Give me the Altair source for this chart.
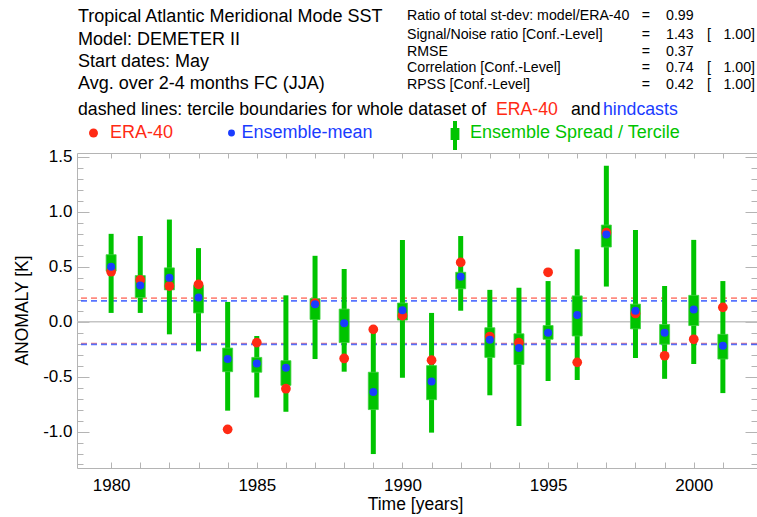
import altair as alt
import pandas as pd

# ---- data: Tropical Atlantic Meridional Mode SST anomalies (K), JJA ----
years = list(range(1980, 2002))
era40 = [0.455, 0.38, 0.325, 0.34, -0.98, -0.19, -0.61, 0.17, -0.335, -0.07, 0.055,
         -0.35, 0.54, -0.135, -0.19, 0.45, -0.37, 0.81, 0.075, -0.31, -0.16, 0.13]
ens_mean = [0.50, 0.33, 0.40, 0.22, -0.34, -0.38, -0.42, 0.16, -0.015, -0.64, 0.105,
            -0.545, 0.41, -0.165, -0.24, -0.10, 0.06, 0.795, 0.10, -0.10, 0.11, -0.22]
spread_lo = [0.08, 0.08, -0.115, -0.27, -0.81, -0.69, -0.82, -0.34, -0.455, -1.205, -0.51,
             -1.01, 0.10, -0.67, -0.95, -0.54, -0.53, 0.32, -0.33, -0.52, -0.385, -0.65]
spread_hi = [0.80, 0.78, 0.93, 0.67, 0.18, -0.13, 0.24, 0.60, 0.48, -0.08, 0.745,
             0.08, 0.78, 0.29, 0.31, 0.37, 0.66, 1.42, 0.835, 0.325, 0.745, 0.37]
tercile_lo = [0.46, 0.22, 0.29, 0.08, -0.455, -0.46, -0.58, 0.02, -0.19, -0.80, 0.015,
              -0.71, 0.30, -0.325, -0.39, -0.16, -0.13, 0.68, -0.065, -0.205, -0.035, -0.34]
tercile_hi = [0.61, 0.42, 0.49, 0.33, -0.24, -0.325, -0.355, 0.21, 0.115, -0.46, 0.17,
              -0.40, 0.45, -0.055, -0.11, -0.035, 0.235, 0.88, 0.16, -0.025, 0.24, -0.115]

# tercile boundaries of the whole dataset
era_bounds = [0.215, -0.198]
hind_bounds = [0.19, -0.206]

# axis ticks
x_ticks = years
y_major = [-1.0, -0.5, 0.0, 0.5, 1.0, 1.5]
y_minor = [-1.3, -1.2, -1.1, -1.0, -0.9, -0.8, -0.7, -0.6, -0.5, -0.4, -0.3, -0.2, -0.1, 0.0,
           0.1, 0.2, 0.3, 0.4, 0.5, 0.6, 0.7, 0.8, 0.9, 1.0, 1.1, 1.2, 1.3, 1.4, 1.5]

# header texts
header_lines = ["Tropical Atlantic Meridional Mode SST", "Model: DEMETER II",
                "Start dates: May", "Avg. over 2-4 months FC (JJA)"]
stat_names = ["Ratio of total st-dev: model/ERA-40", "Signal/Noise ratio [Conf.-Level]",
              "RMSE", "Correlation [Conf.-Level]", "RPSS [Conf.-Level]"]
stat_values = ["0.99", "1.43", "0.37", "0.74", "0.42"]
stat_conf = ["", "1.00]", "", "1.00]", "1.00]"]
dashed_note = ["dashed lines: tercile boundaries for whole dataset of", "ERA-40", "and", "hindcasts"]
legend_labels = ["ERA-40", "Ensemble-mean", "Ensemble Spread / Tercile"]

# ---- styling ----
RED = "#ff2a14"
BLUE = "#1a3cff"
GREEN = "#00c400"
GRAY = "#b4b4b4"
FONT = "Liberation Sans"
W, H = 680, 315

xs = alt.Scale(domain=[1979, 2002], nice=False, zero=False)
ys = alt.Scale(domain=[-1.332, 1.536], nice=False, zero=False)

df = pd.DataFrame({"year": years, "era": era40, "mean": ens_mean,
                   "lo": spread_lo, "hi": spread_hi, "tlo": tercile_lo, "thi": tercile_hi})

common_axis = dict(domain=False, grid=False, tickColor=GRAY, tickWidth=1)

x_bottom = alt.Axis(orient="bottom", values=x_ticks, tickSize=6, offset=-6,
                    labelExpr="datum.value % 5 == 0 ? format(datum.value, 'd') : ''",
                    labelFont=FONT, labelFontSize=17, labelColor="black", labelPadding=9,
                    labelOverlap=False, labelFlush=False,
                    title="Time [years]", titleFont=FONT, titleFontSize=17.5,
                    titleFontWeight="normal", titleColor="black",
                    titleX=338, titleY=42, titleAlign="center", titleBaseline="middle",
                    **common_axis)
x_top = alt.Axis(orient="top", values=x_ticks, tickSize=5, offset=-5, labels=False,
                 title=None, **common_axis)
y_left = alt.Axis(orient="left", values=y_major, tickSize=12, offset=-12,
                  labelExpr="(datum.value < 0 ? '-' : '') + format(abs(datum.value), '.1f')",
                  labelFont=FONT, labelFontSize=17, labelColor="black", labelPadding=5,
                  labelOverlap=False, labelFlush=False,
                  title="ANOMALY [K]", titleFont=FONT, titleFontSize=17.5,
                  titleFontWeight="normal", titleColor="black",
                  titleX=-67, titleY=157, titleAlign="center", titleBaseline="middle",
                  **common_axis)
y_left_minor = alt.Axis(orient="left", values=y_minor, tickSize=6, offset=-6,
                        labels=False, title=None, **common_axis)
y_right = alt.Axis(orient="right", values=y_major, tickSize=12, offset=-12,
                   labels=False, title=None, **common_axis)
y_right_minor = alt.Axis(orient="right", values=y_minor, tickSize=6, offset=-6,
                         labels=False, title=None, **common_axis)

base = alt.Chart(df)

zero_line = alt.Chart(pd.DataFrame({"v": [0.0]})).mark_rule(
    color="#c4c4c4", strokeWidth=1.5
).encode(y=alt.Y("v:Q", scale=ys, axis=None))

era_lines = alt.Chart(pd.DataFrame({"v": era_bounds})).mark_rule(
    color="#ff5a48", strokeWidth=1.6, strokeDash=[6, 4], opacity=0.7
).encode(y=alt.Y("v:Q", scale=ys, axis=None))

hind_lines = alt.Chart(pd.DataFrame({"v": hind_bounds})).mark_rule(
    color="#3a5cff", strokeWidth=1.6, strokeDash=[6, 4], opacity=0.85
).encode(y=alt.Y("v:Q", scale=ys, axis=None))

whiskers = base.mark_rule(color=GREEN, strokeWidth=5).encode(
    x=alt.X("year:Q", scale=xs, axis=x_bottom),
    y=alt.Y("lo:Q", scale=ys, axis=y_left),
    y2="hi:Q",
)

boxes = base.mark_bar(color=GREEN, size=10, stroke="#3fd23f", strokeWidth=0.8).encode(
    x=alt.X("year:Q", scale=xs, axis=x_top),
    y=alt.Y("tlo:Q", scale=ys, axis=y_left_minor),
    y2="thi:Q",
)

era_dots = base.mark_circle(color=RED, size=95, opacity=1).encode(
    x=alt.X("year:Q", scale=xs, axis=None),
    y=alt.Y("era:Q", scale=ys, axis=y_right),
)

mean_dots = base.mark_circle(color=BLUE, size=64, opacity=1).encode(
    x=alt.X("year:Q", scale=xs, axis=None),
    y=alt.Y("mean:Q", scale=ys, axis=y_right_minor),
)


def label(text, x, y, size, color="black", align="left"):
    return alt.Chart(pd.DataFrame({"t": [text]})).mark_text(
        align=align, baseline="middle", font=FONT, fontSize=size, color=color
    ).encode(text="t:N", x=alt.value(x), y=alt.value(y))


texts = []
for line, yy in zip(header_lines, [-136, -113, -91, -69]):
    texts.append(label(line, 1, yy, 18))

stat_rows = [-137.3, -118, -101.3, -84.7, -68]
for name, val, conf, yy in zip(stat_names, stat_values, stat_conf, stat_rows):
    texts.append(label(name, 330, yy, 14.2))
    texts.append(label("=", 569, yy, 14.2, align="center"))
    texts.append(label(val, 589, yy, 14.2))
    if conf:
        texts.append(label("[", 630, yy, 14.2))
        texts.append(label(conf, 678, yy, 14.2, align="right"))

texts.append(label(dashed_note[0], 1, -43, 17.7))
texts.append(label(dashed_note[1], 419, -43, 17.7, color=RED))
texts.append(label(dashed_note[2], 494, -43, 17.7))
texts.append(label(dashed_note[3], 526, -43, 17.7, color=BLUE))

texts.append(label(legend_labels[0], 33, -20, 18, color=RED))
texts.append(label(legend_labels[1], 164.5, -20, 18, color=BLUE))
texts.append(label(legend_labels[2], 393, -20, 18, color=GREEN))

one = pd.DataFrame({"k": [0]})
legend_marks = [
    alt.Chart(one).mark_circle(color=RED, size=80, opacity=1).encode(
        x=alt.value(16.5), y=alt.value(-20)),
    alt.Chart(one).mark_circle(color=BLUE, size=48, opacity=1).encode(
        x=alt.value(154.5), y=alt.value(-20)),
    alt.Chart(one).mark_rect(color=GREEN).encode(
        x=alt.value(376), x2=alt.value(380), y=alt.value(-32), y2=alt.value(-3)),
    alt.Chart(one).mark_rect(color=GREEN).encode(
        x=alt.value(373.6), x2=alt.value(382.4), y=alt.value(-25), y2=alt.value(-13)),
]

chart = alt.layer(
    zero_line, era_lines, hind_lines, whiskers, boxes, era_dots, mean_dots,
    *legend_marks, *texts
).resolve_axis(
    x="independent", y="independent"
).properties(
    width=W, height=H,
    padding={"left": 77, "top": 153, "right": 0, "bottom": 49},
    autosize=alt.AutoSizeParams(type="none"),
    background="white",
).configure_view(
    stroke=GRAY, strokeWidth=1
)

chart.save("out.html", embed_options={"renderer": "svg", "actions": False})
